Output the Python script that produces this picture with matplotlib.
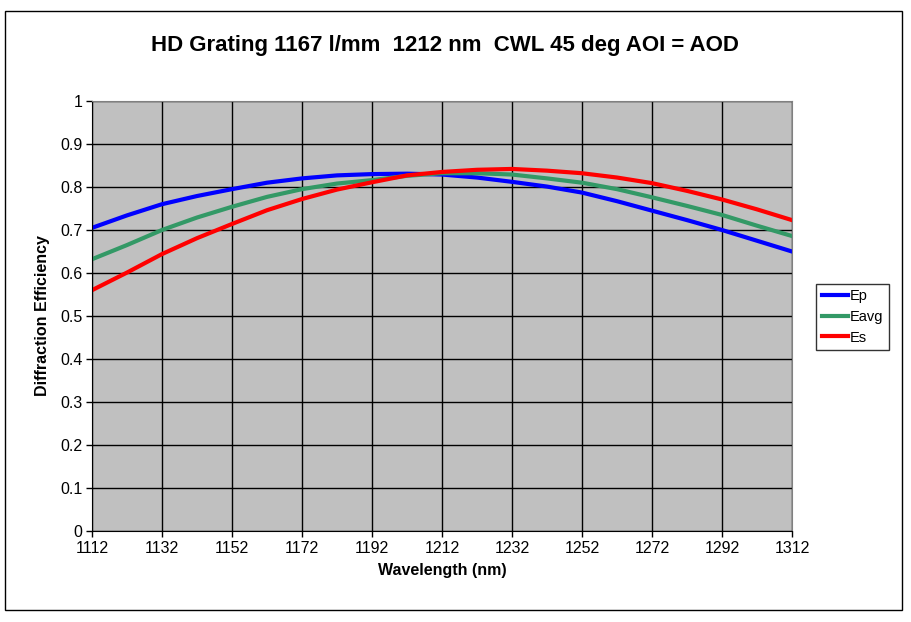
import matplotlib
matplotlib.use("Agg")
import matplotlib.pyplot as plt
from matplotlib.patches import Rectangle
from matplotlib.ticker import FuncFormatter

# Values (every 10 nm)
wavelength = [1112, 1122, 1132, 1142, 1152, 1162, 1172, 1182, 1192, 1202, 1212,
              1222, 1232, 1242, 1252, 1262, 1272, 1282, 1292, 1302, 1312]
ep   = [0.705, 0.734, 0.760, 0.779, 0.795, 0.810, 0.820, 0.827, 0.830, 0.831, 0.829,
        0.822, 0.812, 0.801, 0.787, 0.767, 0.745, 0.723, 0.700, 0.675, 0.650]
eavg = [0.632, 0.665, 0.700, 0.729, 0.754, 0.777, 0.795, 0.808, 0.816, 0.826, 0.832,
        0.832, 0.829, 0.820, 0.810, 0.795, 0.776, 0.756, 0.735, 0.710, 0.686]
es   = [0.560, 0.601, 0.644, 0.681, 0.714, 0.746, 0.772, 0.794, 0.811, 0.827, 0.835,
        0.840, 0.842, 0.838, 0.832, 0.822, 0.809, 0.791, 0.771, 0.748, 0.723]

x_ticks = list(range(1112, 1313, 20))
y_ticks = [i / 10 for i in range(11)]

plt.rcParams["font.family"] = ["Liberation Sans", "DejaVu Sans"]

fig = plt.figure(figsize=(9.12, 6.22), dpi=100)
ax = fig.add_axes([92 / 912, 91 / 622, 700 / 912, 430 / 622])

# outer chart border
fig.patches.append(Rectangle((5 / 912, 12 / 622), 897 / 912, 599 / 622,
                             transform=fig.transFigure, fill=False,
                             edgecolor="black", linewidth=1))

ax.set_facecolor("#C0C0C0")
ax.plot(wavelength, ep, color="#0000FF", linewidth=3, label="Ep")
ax.plot(wavelength, eavg, color="#339966", linewidth=3, label="Eavg")
ax.plot(wavelength, es, color="#FF0000", linewidth=3, label="Es")

ax.set_xlim(1112, 1312)
ax.set_ylim(0, 1)
ax.set_xticks(x_ticks)
ax.set_yticks(y_ticks)
ax.yaxis.set_major_formatter(FuncFormatter(lambda v, p: f"{v:g}"))
ax.grid(True, color="black", linewidth=1)
ax.set_axisbelow(True)
ax.tick_params(direction="out", length=4, width=1, labelsize=11.5, pad=3)
for side in ["top", "right"]:
    ax.spines[side].set_color("#808080")
for side in ["left", "bottom"]:
    ax.spines[side].set_color("black")

ax.set_xlabel("Wavelength (nm)", fontsize=11.5, fontweight="bold", labelpad=5)
ax.set_ylabel("Diffraction Efficiency", fontsize=11.5, fontweight="bold", labelpad=7)

fig.text(445 / 912, 1 - 45 / 622, "HD Grating 1167 l/mm  1212 nm  CWL 45 deg AOI = AOD",
         ha="center", va="center", fontsize=16, fontweight="bold")

leg = ax.legend(loc="center left", bbox_to_anchor=(816 / 912, 1 - 317 / 622),
                bbox_transform=fig.transFigure, fontsize=10.5, frameon=True,
                fancybox=False, handlelength=1.8, handletextpad=0.1,
                borderpad=0.4, labelspacing=0.45, borderaxespad=0)
leg.get_frame().set_edgecolor("black")
leg.get_frame().set_linewidth(1)

fig.savefig("out.png", dpi=100)
